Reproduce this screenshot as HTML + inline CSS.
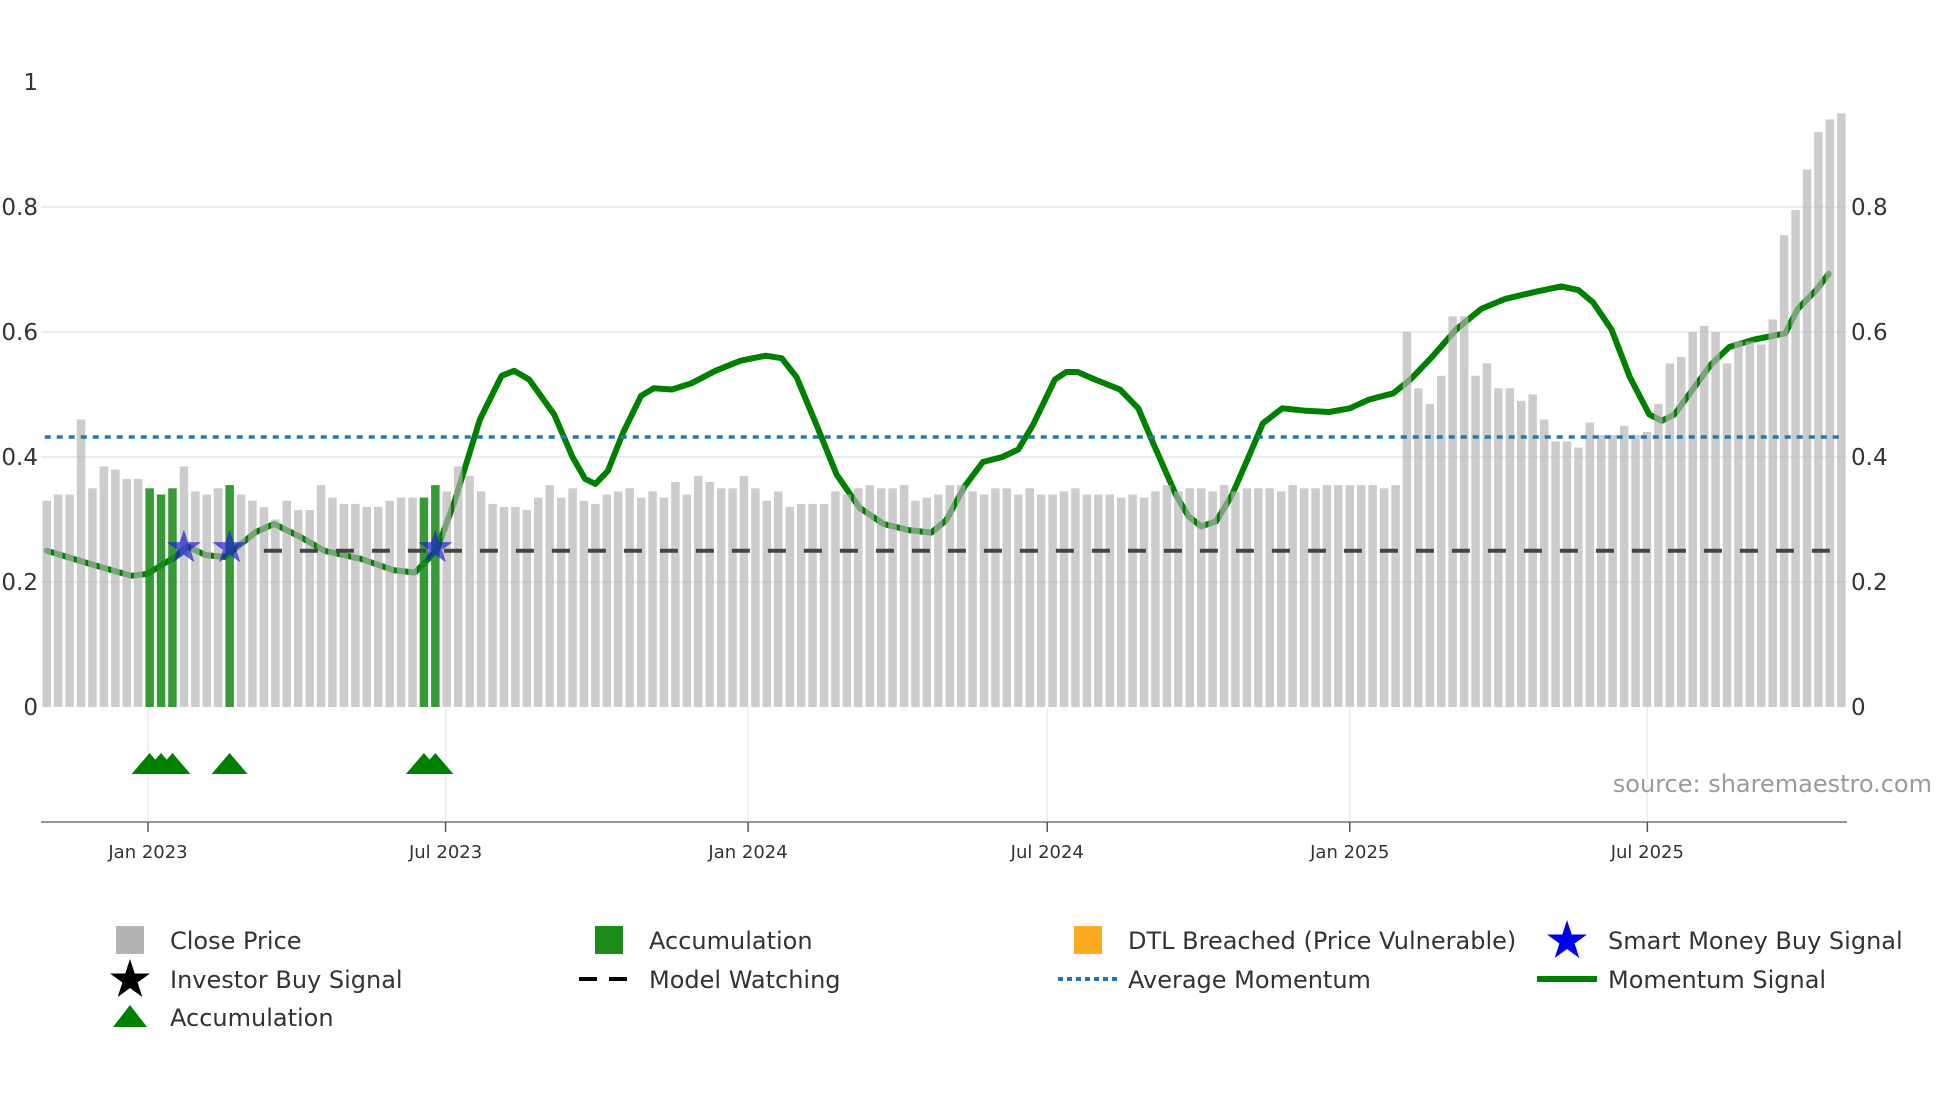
<!DOCTYPE html>
<html><head><meta charset="utf-8"><style>
html,body{margin:0;padding:0;background:#fff;}
svg{display:block;font-family:"DejaVu Sans","Liberation Sans",sans-serif;}
</style></head><body>
<svg id="chart" width="1960" height="1102" viewBox="0 0 1960 1102" xmlns="http://www.w3.org/2000/svg">
<g id="grid"></g>
<g id="lines"></g>
<g id="bars"></g>
<g id="marks"></g>
<g id="axes"></g>
<text x="1932" y="792" text-anchor="end" font-size="24" fill="#9a9a9a">source: sharemaestro.com</text>
<g id="legend"></g>
</svg>
<script>
const closePrice = [0.33,0.34,0.34,0.46,0.35,0.385,0.38,0.365,0.365,0.35,
0.34,0.35,0.385,0.345,0.34,0.35,0.355,0.34,0.33,0.32,
0.30,0.33,0.315,0.315,0.355,0.335,0.325,0.325,0.32,0.32,
0.33,0.335,0.335,0.335,0.355,0.345,0.385,0.37,0.345,0.325,
0.32,0.32,0.315,0.335,0.355,0.335,0.35,0.33,0.325,0.34,
0.345,0.35,0.335,0.345,0.335,0.36,0.34,0.37,0.36,0.35,
0.35,0.37,0.35,0.33,0.345,0.32,0.325,0.325,0.325,0.345,
0.34,0.35,0.355,0.35,0.35,0.355,0.33,0.335,0.34,0.355,
0.355,0.345,0.34,0.35,0.35,0.34,0.35,0.34,0.34,0.345,
0.35,0.34,0.34,0.34,0.335,0.34,0.335,0.345,0.355,0.345,
0.35,0.35,0.345,0.355,0.345,0.35,0.35,0.35,0.345,0.355,
0.35,0.35,0.355,0.355,0.355,0.355,0.355,0.35,0.355,
0.6,0.51,0.485,0.53,0.625,0.625,0.53,0.55,0.51,0.51,0.49,0.5,0.46,0.425,0.425,0.415,0.455,0.435,0.435,0.45,0.435,0.44,0.485,0.55,0.56,0.6,0.61,0.6,0.55,0.585,0.585,0.58,0.62,0.755,0.795,0.86,0.92,0.94,0.95];
const accumulationWeeks = [9,10,11,16,33,34];
const smartMoneyWeeks = [12,16,34];
const momentumWeeks = [0,3.6,7.4,8.8,11.2,12.3,13.9,15.6,18.3,19.9,22.1,24.3,27.5,30.3,32.2,34.1,35.7,37.9,39.8,40.9,42.2,44.4,46.0,47.1,48.0,49.1,50.4,52.0,53.1,54.7,56.4,58.5,60.7,62.9,64.3,65.6,67.2,69.1,71.1,73.2,75.4,77.4,78.7,80.3,81.9,83.6,85.0,86.3,88.2,89.2,90.2,91.7,93.9,95.5,96.9,98.8,99.9,101.0,102.3,103.7,105.1,106.4,108.1,110.2,112.2,114.0,115.7,117.8,119.3,121.1,123.3,125.5,127.6,130.4,132.5,134.0,135.3,136.9,138.5,140.2,141.3,142.4,144.0,145.6,147.2,149.4,152.1,153.2,154.8,155.9];
const momentumValues = [0.25,0.23,0.21,0.213,0.24,0.257,0.243,0.24,0.28,0.293,0.273,0.25,0.237,0.219,0.215,0.25,0.33,0.46,0.53,0.538,0.524,0.468,0.4,0.365,0.357,0.378,0.438,0.498,0.51,0.508,0.518,0.538,0.554,0.562,0.558,0.528,0.458,0.372,0.319,0.293,0.283,0.279,0.299,0.353,0.392,0.4,0.412,0.452,0.524,0.536,0.536,0.524,0.508,0.478,0.418,0.339,0.305,0.289,0.297,0.339,0.398,0.454,0.478,0.474,0.472,0.478,0.492,0.502,0.524,0.558,0.604,0.637,0.653,0.665,0.673,0.667,0.647,0.604,0.528,0.468,0.458,0.468,0.508,0.548,0.576,0.588,0.598,0.637,0.667,0.693];
const averageMomentum = [0.432];
const modelWatching = [0.25];
const modelWatchingStartWeek = [19];
const yTicks = [0,0.2,0.4,0.6,0.8,1];
const yTickLabels = ["0","0.2","0.4","0.6","0.8","1"];
const xTickDates = ["2023-01-01","2023-07-01","2024-01-01","2024-07-01","2025-01-01","2025-07-01"];
const xTickLabels = ["Jan 2023","Jul 2023","Jan 2024","Jul 2024","Jan 2025","Jul 2025"];

const NS="http://www.w3.org/2000/svg";
const PL=41, PR=1847, Y0=707, Y1=82;
const N=closePrice.length, step=(PR-PL)/N;
function xw(i){return PL+step*(i+0.5);}
function yv(v){return Y0-(Y0-Y1)*v;}
const dayPx=1.644, jan23=148;
function xd(s){const d=(new Date(s+"T00:00:00Z")-Date.UTC(2023,0,1))/86400000;return jan23+d*dayPx;}
function mk(tag,parent,attrs){const e=document.createElementNS(NS,tag);for(const k in attrs)e.setAttribute(k,attrs[k]);parent.appendChild(e);return e;}
function starPts(cx,cy,R,r){let p=[];for(let k=0;k<10;k++){const a=-Math.PI/2+k*Math.PI/5;const rr=k%2?r:R;p.push((cx+rr*Math.cos(a)).toFixed(1)+","+(cy+rr*Math.sin(a)).toFixed(1));}return p.join(" ");}

const grid=document.getElementById('grid');
yTicks.forEach((t,i)=>{
 if(t>0&&t<1){const l=mk('line',grid,{x1:PL,x2:PR,y1:yv(t),y2:yv(t),stroke:'#e9edf2','stroke-width':2});
 
 }
});
xTickDates.forEach(d=>{const l=mk('line',grid,{x1:xd(d),x2:xd(d),y1:Y0,y2:822,stroke:'#eeeeee','stroke-width':1.5});
 
 });

const lines=document.getElementById('lines');
let pts=momentumWeeks.map((w,i)=>xw(w).toFixed(1)+","+yv(momentumValues[i]).toFixed(1)).join(" ");
const ml=mk('polyline',lines,{points:pts,fill:'none',stroke:'#008000','stroke-width':6,'stroke-linejoin':'round','stroke-linecap':'round'});



const bars=document.getElementById('bars');
const bw=step*0.74;
closePrice.forEach((v,i)=>{
 const acc=accumulationWeeks.includes(i);
 const r=mk('rect',bars,{x:(xw(i)-bw/2).toFixed(1),y:yv(v).toFixed(1),width:bw.toFixed(1),height:(Y0-yv(v)).toFixed(1),fill:acc?'#1a8c1a':'#b4b4b4','fill-opacity':acc?0.88:0.68});
 
 
});

const marks=document.getElementById('marks');
const avg=mk('line',marks,{x1:xw(0)-2,x2:xw(N-1)+1,y1:yv(averageMomentum[0]),y2:yv(averageMomentum[0]),stroke:'#1f77b4','stroke-width':3.5,'stroke-dasharray':'6 6'});


const mw=mk('line',marks,{x1:xw(modelWatchingStartWeek[0]),x2:xw(N-2),y1:yv(modelWatching[0]),y2:yv(modelWatching[0]),stroke:'#444','stroke-width':4,'stroke-dasharray':'18 18'});


smartMoneyWeeks.forEach(w=>{
 const s=mk('polygon',marks,{points:starPts(xw(w),yv(modelWatching[0])-3,18,7),fill:'#2020d0','fill-opacity':0.7});
 
 
});
accumulationWeeks.forEach(w=>{
 const cx=xw(w);
 const t=mk('polygon',marks,{points:`${cx-18},774 ${cx},753 ${cx+18},774`,fill:'#008000'});
 
 
});

const axes=document.getElementById('axes');
const xa=mk('line',axes,{x1:PL,x2:PR,y1:822,y2:822,stroke:'#777','stroke-width':1.5});


xTickDates.forEach((d,i)=>{
 const tk=mk('line',axes,{x1:xd(d),x2:xd(d),y1:822,y2:832,stroke:'#555','stroke-width':1.5});
 
 
 const tx=mk('text',axes,{x:xd(d),y:858,'text-anchor':'middle','font-size':18,fill:'#333'});
 tx.textContent=xTickLabels[i];
 
 
});
yTicks.forEach((t,i)=>{
 const a=mk('text',axes,{x:38,y:yv(t)+8,'text-anchor':'end','font-size':23,fill:'#333'});
 a.textContent=yTickLabels[i];
 
 
 if(t<1){const b=mk('text',axes,{x:1851,y:yv(t)+8,'text-anchor':'start','font-size':23,fill:'#333'});
 b.textContent=yTickLabels[i];
 
 }
});

const lg=document.getElementById('legend');
const items=[
 {c:130,t:170,y:940,k:'sq',col:'#b4b4b4',label:'Close Price'},
 {c:609,t:649,y:940,k:'sq',col:'#1a8c1a',label:'Accumulation'},
 {c:1088,t:1128,y:940,k:'sq',col:'#ffaa22',label:'DTL Breached (Price Vulnerable)'},
 {c:1567,t:1608,y:940,k:'star',col:'#0000ee',label:'Smart Money Buy Signal'},
 {c:130,t:170,y:979,k:'star',col:'#000',label:'Investor Buy Signal'},
 {c:609,t:649,y:979,k:'dash',col:'#000',label:'Model Watching'},
 {c:1088,t:1128,y:979,k:'dot',col:'#1f77b4',label:'Average Momentum'},
 {c:1567,t:1608,y:979,k:'line',col:'#008000',label:'Momentum Signal'},
 {c:130,t:170,y:1017,k:'tri',col:'#008000',label:'Accumulation'}
];
items.forEach(it=>{
 const g=mk('g',lg,{});
 
 
 if(it.k==='sq')mk('rect',g,{x:it.c-14,y:it.y-14,width:28,height:28,fill:it.col});
 if(it.k==='star')mk('polygon',g,{points:starPts(it.c,it.y+1,21,8),fill:it.col});
 if(it.k==='dash')mk('line',g,{x1:it.c-30,x2:it.c+30,y1:it.y,y2:it.y,stroke:it.col,'stroke-width':4,'stroke-dasharray':'18 12'});
 if(it.k==='dot')mk('line',g,{x1:it.c-30,x2:it.c+30,y1:it.y,y2:it.y,stroke:it.col,'stroke-width':4,'stroke-dasharray':'5 4'});
 if(it.k==='line')mk('line',g,{x1:it.c-30,x2:it.c+30,y1:it.y,y2:it.y,stroke:it.col,'stroke-width':6});
 if(it.k==='tri')mk('polygon',g,{points:`${it.c-17},${it.y+10} ${it.c},${it.y-12} ${it.c+17},${it.y+10}`,fill:it.col});
 const tx=mk('text',g,{x:it.t,y:it.y+9,'font-size':24,fill:'#333'});
 tx.textContent=it.label;
});
</script>
</body></html>
